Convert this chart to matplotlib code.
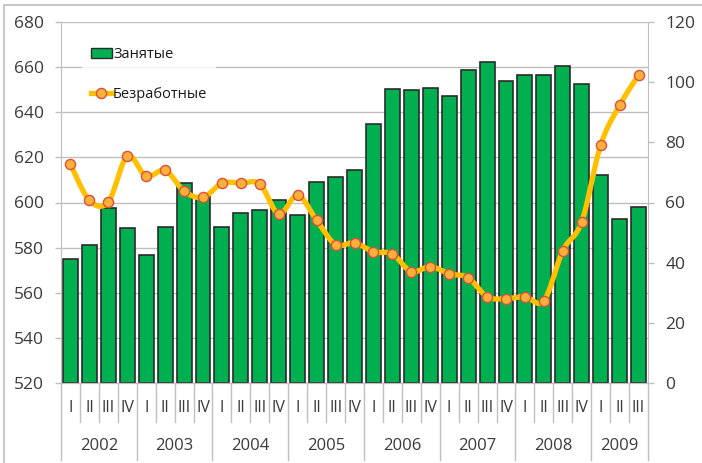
import numpy as np
import matplotlib
matplotlib.use('Agg')
import matplotlib.pyplot as plt
from matplotlib.lines import Line2D
from matplotlib.patches import Patch

plt.rcParams['font.family'] = ['Open Sans', 'DejaVu Sans']

years = ['2002', '2003', '2004', '2005', '2006', '2007', '2008', '2009']
quarters = ['I', 'II', 'III', 'IV'] * 7 + ['I', 'II', 'III']

# employed, thousands (left axis)
employed = [575.0, 581.0, 597.4, 588.6,
            576.9, 589.1, 608.6, 602.9,
            589.3, 595.2, 596.5, 601.0,
            594.5, 609.1, 611.4, 614.6,
            634.8, 650.2, 649.7, 650.9,
            647.1, 658.7, 662.3, 654.0,
            656.6, 656.6, 660.5, 652.7,
            612.3, 592.7, 598.0]

# unemployed, thousands (right axis)
unemployed = [72.7, 60.7, 60.2, 75.4,
              68.7, 70.7, 63.8, 61.7,
              66.4, 66.4, 66.1, 56.2,
              62.4, 54.1, 46.0, 46.6,
              43.6, 42.9, 37.0, 38.7,
              36.3, 35.0, 28.7, 28.0,
              28.7, 27.3, 44.0, 53.6,
              79.1, 92.3, 102.4]


def smooth_curve(x, y, steps=20):
    """Excel-like smoothed line (Catmull-Rom as cubic Bezier)."""
    x = np.asarray(x, float)
    y = np.asarray(y, float)
    n = len(x)
    xs, ys = [], []
    t = np.linspace(0, 1, steps)
    for i in range(n - 1):
        i0 = max(i - 1, 0)
        i3 = min(i + 2, n - 1)
        p0 = np.array([x[i], y[i]])
        p3 = np.array([x[i + 1], y[i + 1]])
        p1 = p0 + (p3 - np.array([x[i0], y[i0]])) / 6
        p2 = p3 - (np.array([x[i3], y[i3]]) - p0) / 6
        b = ((1 - t) ** 3)[:, None] * p0 + (3 * (1 - t) ** 2 * t)[:, None] * p1 \
            + (3 * (1 - t) * t ** 2)[:, None] * p2 + (t ** 3)[:, None] * p3
        xs.extend(b[:, 0])
        ys.extend(b[:, 1])
    return xs, ys


W, H = 702, 463
fig = plt.figure(figsize=(W / 100, H / 100), dpi=100)
left, right, top, bottom = 61, 648, 22, 383
ax = fig.add_axes([left / W, 1 - bottom / H, (right - left) / W, (bottom - top) / H])
ax2 = ax.twinx()

grid_col = '#BFBFBF'
text_col = '#3A3A3A'

x = np.arange(len(employed))
ax.bar(x, np.array(employed) - 520, bottom=520, width=0.79, color='#00B050',
       edgecolor='#2B2B2B', linewidth=1.2, zorder=2)
ax.set_xlim(-0.5, len(employed) - 0.5)
ax.set_ylim(520, 680)
ax.set_yticks(range(520, 681, 20))
ax.grid(axis='y', color=grid_col, linewidth=1.0, zorder=0)
ax.set_axisbelow(True)
ax.set_xticks([])

sx, sy = smooth_curve(x, unemployed)
ax2.plot(sx, sy, color='#FFC000', linewidth=3.8, solid_capstyle='round', zorder=3)
ax2.plot(x, unemployed, linestyle='none', marker='o', markersize=7.3,
         markerfacecolor='#FBB03B', markeredgecolor='#D9503A', markeredgewidth=1.0, zorder=4)
ax2.set_ylim(0, 120)
ax2.set_yticks(range(0, 121, 20))

for a in (ax, ax2):
    a.spines['top'].set_visible(False)
    a.spines['bottom'].set_color(grid_col)
    a.spines['left'].set_color(grid_col)
    a.spines['right'].set_color(grid_col)
    a.tick_params(axis='y', colors=grid_col, labelcolor=text_col, labelsize=12.5,
                  length=4.5, width=1.0)
ax.tick_params(axis='y', pad=8)
ax2.tick_params(axis='y', pad=8)
ax2.spines['left'].set_visible(False)
ax.spines['right'].set_visible(False)
ax.spines['left'].set_zorder(5)
ax2.spines['right'].set_zorder(5)

# category axis: quarter labels, separators, year labels
tr = ax.get_xaxis_transform()
q_bottom = -(421.7 - bottom) / (bottom - top)
y_bottom = -(460 - bottom) / (bottom - top)
for i, q in enumerate(quarters):
    ax.text(i, -(408 - bottom) / (bottom - top), q, transform=tr, ha='center',
            va='center', fontsize=11.5, color=text_col)
for k in range(len(quarters) + 1):
    b = k - 0.5
    low = y_bottom if k % 4 == 0 or k == len(quarters) else q_bottom
    ax.add_line(Line2D([b, b], [0, low], transform=tr, color=grid_col,
                       linewidth=1.0, clip_on=False))
for j, yr in enumerate(years):
    start = j * 4
    end = min(start + 4, len(quarters))
    ax.text((start + end - 1) / 2, -(446 - bottom) / (bottom - top), yr,
            transform=tr, ha='center', va='center', fontsize=12, color=text_col)

# legend
handles = [Patch(facecolor='#00B050', edgecolor='#2B2B2B', linewidth=1.0),
           Line2D([], [], color='#FFC000', linewidth=3.8, marker='o', markersize=7.3,
                  markerfacecolor='#FBB03B', markeredgecolor='#D9503A')]
leg = ax.legend(handles, ['Занятые', 'Безработные'], loc='upper left',
                bbox_to_anchor=(0.024, 0.975), frameon=True, fontsize=10.5,
                handlelength=1.4, handletextpad=0.1, labelspacing=1.7,
                borderpad=0.6, fancybox=False)
leg.get_frame().set_edgecolor('none')
leg.get_frame().set_facecolor('white')
leg.set_zorder(6)
for t in leg.get_texts():
    t.set_color('#1A1A1A')

# outer chart frame
fig.add_artist(Line2D([4 / W, 4 / W], [0, 1 - 5 / H], color='#C8C8C8', linewidth=1.5))
fig.add_artist(Line2D([4 / W, 1], [1 - 5 / H, 1 - 5 / H], color='#C8C8C8', linewidth=1.5))

fig.savefig('out.png', dpi=100)
